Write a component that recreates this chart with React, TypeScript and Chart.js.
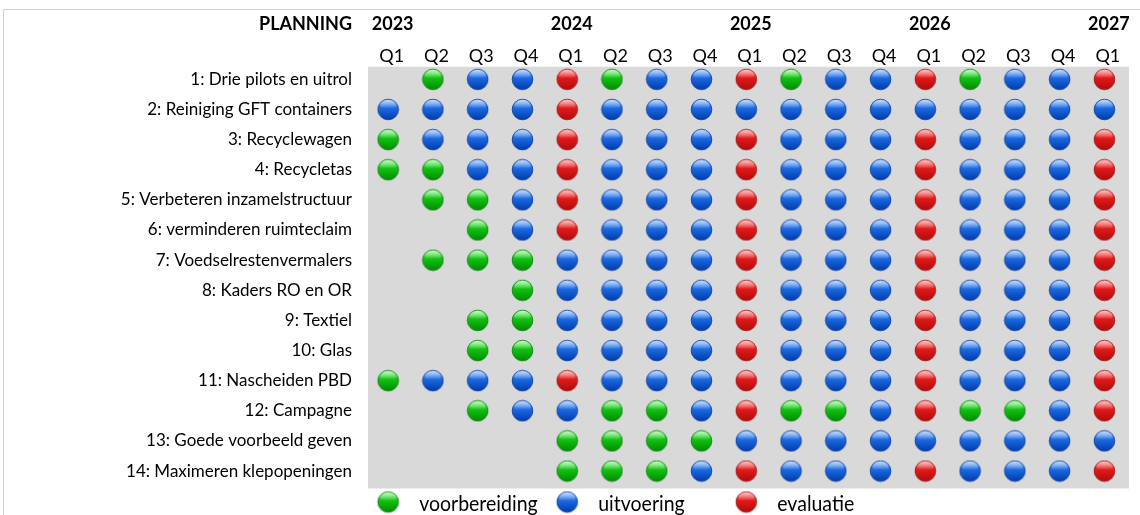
import { useEffect, useRef } from 'react';
import { Chart, registerables } from 'chart.js';

Chart.register(...registerables);

// ---- data ----
const quarterLabels = ['Q1', 'Q2', 'Q3', 'Q4', 'Q1', 'Q2', 'Q3', 'Q4', 'Q1', 'Q2', 'Q3', 'Q4', 'Q1', 'Q2', 'Q3', 'Q4', 'Q1'];
const yearLabels = ['2023', '2024', '2025', '2026', '2027'];
const yearColumns = [0, 4, 8, 12, 16];
const headerTitle = 'PLANNING';

const activities = [
  '1: Drie pilots en uitrol',
  '2: Reiniging GFT containers',
  '3: Recyclewagen',
  '4: Recycletas',
  '5: Verbeteren inzamelstructuur',
  '6: verminderen ruimteclaim',
  '7: Voedselrestenvermalers',
  '8: Kaders RO en OR',
  '9: Textiel',
  '10: Glas',
  '11: Nascheiden PBD',
  '12: Campagne',
  '13: Goede voorbeeld geven',
  '14: Maximeren klepopeningen',
];

// 0 = leeg, 1 = voorbereiding, 2 = uitvoering, 3 = evaluatie
const planning = [
  [0, 1, 2, 2, 3, 1, 2, 2, 3, 1, 2, 2, 3, 1, 2, 2, 3],
  [2, 2, 2, 2, 3, 2, 2, 2, 2, 2, 2, 2, 2, 2, 2, 2, 2],
  [1, 2, 2, 2, 3, 2, 2, 2, 3, 2, 2, 2, 3, 2, 2, 2, 3],
  [1, 1, 2, 2, 3, 2, 2, 2, 3, 2, 2, 2, 3, 2, 2, 2, 3],
  [0, 1, 1, 2, 3, 2, 2, 2, 3, 2, 2, 2, 3, 2, 2, 2, 3],
  [0, 0, 1, 2, 3, 2, 2, 2, 3, 2, 2, 2, 3, 2, 2, 2, 3],
  [0, 1, 1, 1, 2, 2, 2, 2, 3, 2, 2, 2, 3, 2, 2, 2, 3],
  [0, 0, 0, 1, 2, 2, 2, 2, 3, 2, 2, 2, 3, 2, 2, 2, 3],
  [0, 0, 1, 1, 2, 2, 2, 2, 3, 2, 2, 2, 3, 2, 2, 2, 3],
  [0, 0, 1, 1, 2, 2, 2, 2, 3, 2, 2, 2, 3, 2, 2, 2, 3],
  [1, 2, 2, 2, 3, 2, 2, 2, 3, 2, 2, 2, 3, 2, 2, 2, 3],
  [0, 0, 1, 2, 2, 1, 1, 2, 3, 1, 1, 2, 3, 1, 1, 2, 3],
  [0, 0, 0, 0, 1, 1, 1, 1, 2, 2, 2, 2, 2, 2, 2, 2, 2],
  [0, 0, 0, 0, 1, 1, 1, 2, 3, 2, 2, 2, 3, 2, 2, 2, 3],
];

const statusLabels = ['voorbereiding', 'uitvoering', 'evaluatie'];
const statusCodes = [1, 2, 3];
const legendColumns = [0, 4, 8];

// ---- styles ----
const FONT = 'Lato, "Open Sans", sans-serif';
const palette: Record<number, { light: string; base: string; dark: string; edge: string }> = {
  1: { light: '#8cff8c', base: '#13c313', dark: '#008c00', edge: '#007a00' },
  2: { light: '#8fc0ff', base: '#1c6ae2', dark: '#003cac', edge: '#003296' },
  3: { light: '#ff9090', base: '#e21a1a', dark: '#b00c0c', edge: '#9a0a0a' },
};

function makeBall(code: number): HTMLCanvasElement {
  const c = document.createElement('canvas');
  const size = 23;
  c.width = size;
  c.height = size;
  const ctx = c.getContext('2d')!;
  const p = palette[code];
  const cx = size / 2;
  const cy = size / 2;
  const r = 10.3;
  const g = ctx.createLinearGradient(0, cy - r, 0, cy + r);
  g.addColorStop(0, p.light);
  g.addColorStop(0.42, p.base);
  g.addColorStop(1, p.dark);
  ctx.beginPath();
  ctx.arc(cx, cy, r, 0, Math.PI * 2);
  ctx.fillStyle = g;
  ctx.fill();
  ctx.save();
  ctx.beginPath();
  ctx.arc(cx, cy, r, 0, Math.PI * 2);
  ctx.clip();
  const hg = ctx.createLinearGradient(0, cy - r, 0, cy - 1);
  hg.addColorStop(0, 'rgba(255,255,255,0.55)');
  hg.addColorStop(1, 'rgba(255,255,255,0.0)');
  ctx.beginPath();
  ctx.ellipse(cx, cy - r * 0.45, r * 0.8, r * 0.55, 0, 0, Math.PI * 2);
  ctx.fillStyle = hg;
  ctx.fill();
  ctx.restore();
  ctx.beginPath();
  ctx.arc(cx, cy, r, 0, Math.PI * 2);
  ctx.lineWidth = 0.8;
  ctx.strokeStyle = p.edge;
  ctx.stroke();
  return c;
}

export default function App() {
  const canvasRef = useRef<HTMLCanvasElement | null>(null);

  useEffect(() => {
    document.body.style.margin = '0';
    document.body.style.background = '#ffffff';
    const canvas = canvasRef.current;
    if (!canvas) return;

    const balls: Record<number, HTMLCanvasElement> = {
      1: makeBall(1),
      2: makeBall(2),
      3: makeBall(3),
    };

    const datasets = statusCodes.map((code, si) => {
      const pts: { x: number; y: number }[] = [];
      planning.forEach((row, ri) => {
        row.forEach((v, ci) => {
          if (v === code) pts.push({ x: ci, y: ri });
        });
      });
      return {
        label: statusLabels[si],
        data: pts,
        pointStyle: balls[code],
        pointRadius: 10,
        showLine: false,
      };
    });

    const framePlugin = {
      id: 'frameAndBackground',
      beforeDraw(chart: any) {
        const { ctx, chartArea } = chart;
        ctx.save();
        ctx.fillStyle = '#ffffff';
        ctx.fillRect(0, 0, chart.width, chart.height);
        ctx.strokeStyle = '#d0d0d0';
        ctx.lineWidth = 1;
        ctx.beginPath();
        ctx.moveTo(3.5, 515);
        ctx.lineTo(3.5, 9.5);
        ctx.lineTo(chart.width, 9.5);
        ctx.stroke();
        ctx.fillStyle = '#d9d9d9';
        ctx.fillRect(chartArea.left, chartArea.top, chartArea.right - chartArea.left, chartArea.bottom - chartArea.top);
        ctx.restore();
      },
      afterDraw(chart: any) {
        const { ctx, chartArea } = chart;
        const xs = chart.scales.x;
        ctx.save();
        // header title
        ctx.font = `bold 18px ${FONT}`;
        ctx.fillStyle = '#000000';
        ctx.textAlign = 'right';
        ctx.textBaseline = 'middle';
        ctx.fillText(headerTitle, chartArea.left - 16, 24);
        ctx.restore();
        // legend
        const ly = 502;
        const stretch = 1.1;
        const baseline = 511;
        statusCodes.forEach((code, i) => {
          const x = xs.getPixelForValue(legendColumns[i]);
          const img = balls[code];
          ctx.drawImage(img, x - img.width / 2, ly - img.height / 2);
          ctx.save();
          ctx.scale(1, stretch);
          ctx.font = `19.5px ${FONT}`;
          ctx.textAlign = 'left';
          ctx.textBaseline = 'alphabetic';
          ctx.fillStyle = '#000000';
          ctx.fillText(statusLabels[i], x + 31, baseline / stretch);
          ctx.restore();
        });
      },
    };

    const chart = new Chart(canvas, {
      type: 'scatter',
      data: { datasets },
      options: {
        animation: false,
        responsive: false,
        events: [],
        layout: { padding: { top: 10, right: 4, bottom: 26.5, left: 0 } },
        plugins: {
          legend: { display: false },
          tooltip: { enabled: false },
        },
        scales: {
          x: {
            type: 'linear',
            position: 'top',
            min: -0.45,
            max: 16.55,
            weight: 0,
            grid: { display: false, drawTicks: false },
            border: { display: false },
            afterBuildTicks: (axis: any) => {
              axis.ticks = quarterLabels.map((_, i) => ({ value: i }));
            },
            afterFit: (axis: any) => {
              axis.height = 28;
            },
            ticks: {
              autoSkip: false,
              maxRotation: 0,
              padding: 0,
              labelOffset: 3.5,
              color: '#000000',
              font: { family: FONT, size: 18 },
              callback: (v: any) => quarterLabels[v] ?? '',
            },
          },
          years: {
            type: 'linear',
            position: 'top',
            axis: 'x',
            min: -0.45,
            max: 16.55,
            weight: 1,
            grid: { display: false, drawTicks: false },
            border: { display: false },
            afterBuildTicks: (axis: any) => {
              axis.ticks = yearColumns.map((c) => ({ value: c }));
            },
            afterFit: (axis: any) => {
              axis.height = 28.7;
            },
            ticks: {
              autoSkip: false,
              maxRotation: 0,
              padding: 4,
              labelOffset: 4.5,
              color: '#000000',
              font: { family: FONT, size: 18, weight: 'bold' },
              callback: (v: any) => yearLabels[yearColumns.indexOf(v)] ?? '',
            },
          },
          y: {
            type: 'linear',
            reverse: true,
            min: -0.42,
            max: 13.58,
            grid: { display: false, drawTicks: false },
            border: { display: false },
            afterBuildTicks: (axis: any) => {
              axis.ticks = activities.map((_, i) => ({ value: i }));
            },
            afterFit: (axis: any) => {
              axis.width = 368;
            },
            ticks: {
              autoSkip: false,
              padding: 16,
              color: '#000000',
              font: { family: FONT, size: 17 },
              callback: (v: any) => activities[v] ?? '',
            },
          },
        },
      } as any,
      plugins: [framePlugin],
    });

    return () => {
      chart.destroy();
    };
  }, []);

  return (
    <div style={{ width: 1140, height: 515 }}>
      <canvas ref={canvasRef} width={1140} height={515} style={{ display: 'block' }} />
    </div>
  );
}
